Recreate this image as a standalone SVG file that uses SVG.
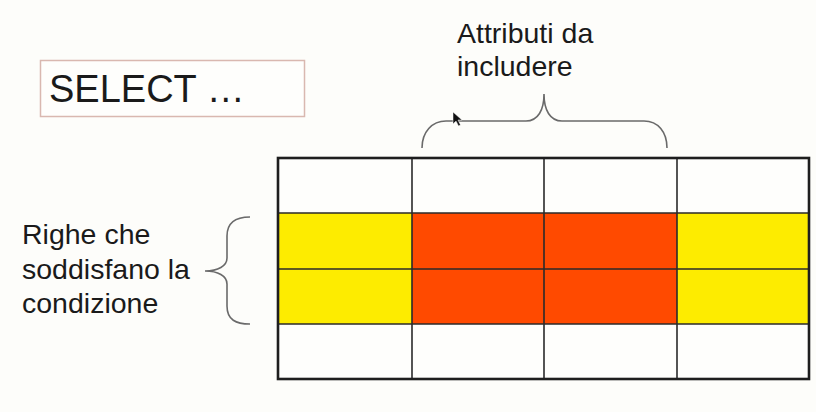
<svg xmlns="http://www.w3.org/2000/svg" width="816" height="412" viewBox="0 0 816 412">
  <style>
    .lbl { font-family: "Liberation Sans", Arial, sans-serif; font-size: 28.5px; fill: #1a1a1a; }
    .brace { fill: none; stroke: #6a6a6a; stroke-width: 1.6; }
    .grid { stroke: #2a2a2a; stroke-width: 1.6; }
    .yel { fill: #fdec00; }
    .ora { fill: #ff4a00; }
  </style>
  <rect x="0" y="0" width="816" height="412" fill="#fdfdfa"/>

  <g id="select-box">
    <rect x="40.5" y="60.5" width="264" height="56" fill="#fefefc" stroke="#d9b8b0" stroke-width="1.5"/>
    <text x="49" y="102" class="lbl" style="font-size:38px">SELECT …</text>
  </g>

  <g id="attributi-label">
    <text x="457" y="43" class="lbl">Attributi da</text>
    <text x="457" y="76" class="lbl">includere</text>
  </g>

  <g id="righe-label">
    <text x="22" y="244" class="lbl">Righe che</text>
    <text x="22" y="279" class="lbl">soddisfano la</text>
    <text x="22" y="313" class="lbl">condizione</text>
  </g>

  <g id="table">
    <rect x="278" y="158" width="531" height="221" fill="#fefefc"/>
    <rect x="278" y="213" width="134" height="111" class="yel"/>
    <rect x="412" y="213" width="265" height="111" class="ora"/>
    <rect x="677" y="213" width="132" height="111" class="yel"/>
    <g class="grid">
      <line x1="412" y1="158" x2="412" y2="379"/>
      <line x1="544" y1="158" x2="544" y2="379"/>
      <line x1="677" y1="158" x2="677" y2="379"/>
      <line x1="278" y1="213" x2="809" y2="213"/>
      <line x1="278" y1="269" x2="809" y2="269"/>
      <line x1="278" y1="324" x2="809" y2="324"/>
    </g>
    <rect x="278" y="158" width="531" height="221" fill="none" stroke="#1e1e1e" stroke-width="2.6"/>
  </g>

  <g id="connectors">
    <path class="brace" d="M422,148 C422,132 432,121 446,121 L526,121 C538,121 544,110 544,94 C544,110 550,121 562,121 L644,121 C658,121 667,132 667,148"/>
    <path class="brace" d="M250,217 C236,217 227,222 227,236 L227,258 C227,266 218,271 205,271 C218,271 227,276 227,284 L227,306 C227,320 236,324 250,324"/>
  </g>

  <g id="cursor">
    <path d="M453,112 L453,124 L456,121 L458.5,126 L460.5,125 L458,120 L462,120 Z" fill="#111" stroke="#fff" stroke-width="0.5"/>
  </g>
</svg>
